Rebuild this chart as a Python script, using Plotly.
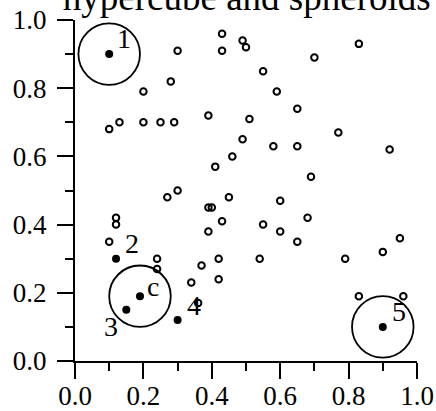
import plotly.graph_objects as go

# ---- data ----
open_x = [0.43, 0.30, 0.43, 0.49, 0.50, 0.83, 0.70, 0.55, 0.28, 0.20, 0.59, 0.65,
          0.39, 0.51, 0.10, 0.13, 0.20, 0.25, 0.29, 0.77, 0.49, 0.58, 0.65, 0.92,
          0.46, 0.41, 0.69, 0.30, 0.27, 0.45, 0.60, 0.39, 0.40, 0.12, 0.12, 0.43,
          0.68, 0.55, 0.39, 0.60, 0.65, 0.10, 0.95, 0.90, 0.24, 0.42, 0.54, 0.79,
          0.37, 0.24, 0.34, 0.42, 0.36, 0.83, 0.96]
open_y = [0.96, 0.91, 0.91, 0.94, 0.92, 0.93, 0.89, 0.85, 0.82, 0.79, 0.79, 0.74,
          0.72, 0.71, 0.68, 0.70, 0.70, 0.70, 0.70, 0.67, 0.65, 0.63, 0.63, 0.62,
          0.60, 0.57, 0.54, 0.50, 0.48, 0.48, 0.47, 0.45, 0.45, 0.42, 0.40, 0.41,
          0.42, 0.40, 0.38, 0.38, 0.35, 0.35, 0.36, 0.32, 0.30, 0.30, 0.30, 0.30,
          0.28, 0.27, 0.23, 0.24, 0.17, 0.19, 0.19]

special_labels = ["1", "2", "3", "4", "5", "c"]
special_x = [0.10, 0.12, 0.15, 0.30, 0.90, 0.19]
special_y = [0.90, 0.30, 0.15, 0.12, 0.10, 0.19]

sphere_labels = ["1", "c", "5"]   # points with a spheroid drawn around them
sphere_radius = 0.09

x_ticks = [0.0, 0.2, 0.4, 0.6, 0.8, 1.0]
y_ticks = [0.0, 0.2, 0.4, 0.6, 0.8, 1.0]
title_text = "hypercube and spheroids"

# ---- styles ----
FONT = "Liberation Serif, Times New Roman, Times, serif"
label_shift = {"1": (15, 16), "2": (16, 15), "3": (-15, -17),
               "4": (16, 15), "5": (16, 15), "c": (13, 10)}

fig = go.Figure()
fig.add_trace(go.Scatter(x=open_x, y=open_y, mode="markers",
                         marker=dict(symbol="circle-open", size=6.5, color="black",
                                     line=dict(width=2, color="black")),
                         hoverinfo="skip", showlegend=False, cliponaxis=False))
fig.add_trace(go.Scatter(x=special_x, y=special_y, mode="markers",
                         marker=dict(symbol="circle", size=8, color="black"),
                         hoverinfo="skip", showlegend=False, cliponaxis=False))

for lab, px, py in zip(special_labels, special_x, special_y):
    dx, dy = label_shift[lab]
    fig.add_annotation(x=px, y=py, text=lab, showarrow=False, xanchor="center",
                       yanchor="middle", xshift=dx, yshift=dy,
                       font=dict(family=FONT, size=28, color="black"))
    if lab in sphere_labels:
        fig.add_shape(type="circle", xref="x", yref="y",
                      x0=px - sphere_radius, x1=px + sphere_radius,
                      y0=py - sphere_radius, y1=py + sphere_radius,
                      line=dict(color="black", width=1.8))

axis_common = dict(range=[0, 1], showgrid=False, zeroline=False, showline=True,
                   linecolor="black", linewidth=2, ticks="outside", ticklen=16,
                   tickwidth=2, tickcolor="black", tickformat=".1f",
                   tickfont=dict(family=FONT, size=27, color="black"),
                   minor=dict(ticks="outside", ticklen=8, tickwidth=2,
                              tickcolor="black", dtick=0.1),
                   automargin=False, fixedrange=True)
fig.update_xaxes(tickvals=x_ticks, ticklabelstandoff=-6, **axis_common)
fig.update_yaxes(tickvals=y_ticks, ticklabelstandoff=5, **axis_common)

fig.update_layout(
    width=436, height=411,
    margin=dict(l=75, r=19, t=20, b=50),
    plot_bgcolor="white", paper_bgcolor="white",
    font=dict(family=FONT, color="black"),
    title=dict(text=title_text, x=0.566, xanchor="center", yref="container",
               y=0.976, yanchor="bottom", automargin=False,
               font=dict(family=FONT, size=37, color="black")),
    showlegend=False,
)

fig.write_html("out.html")
